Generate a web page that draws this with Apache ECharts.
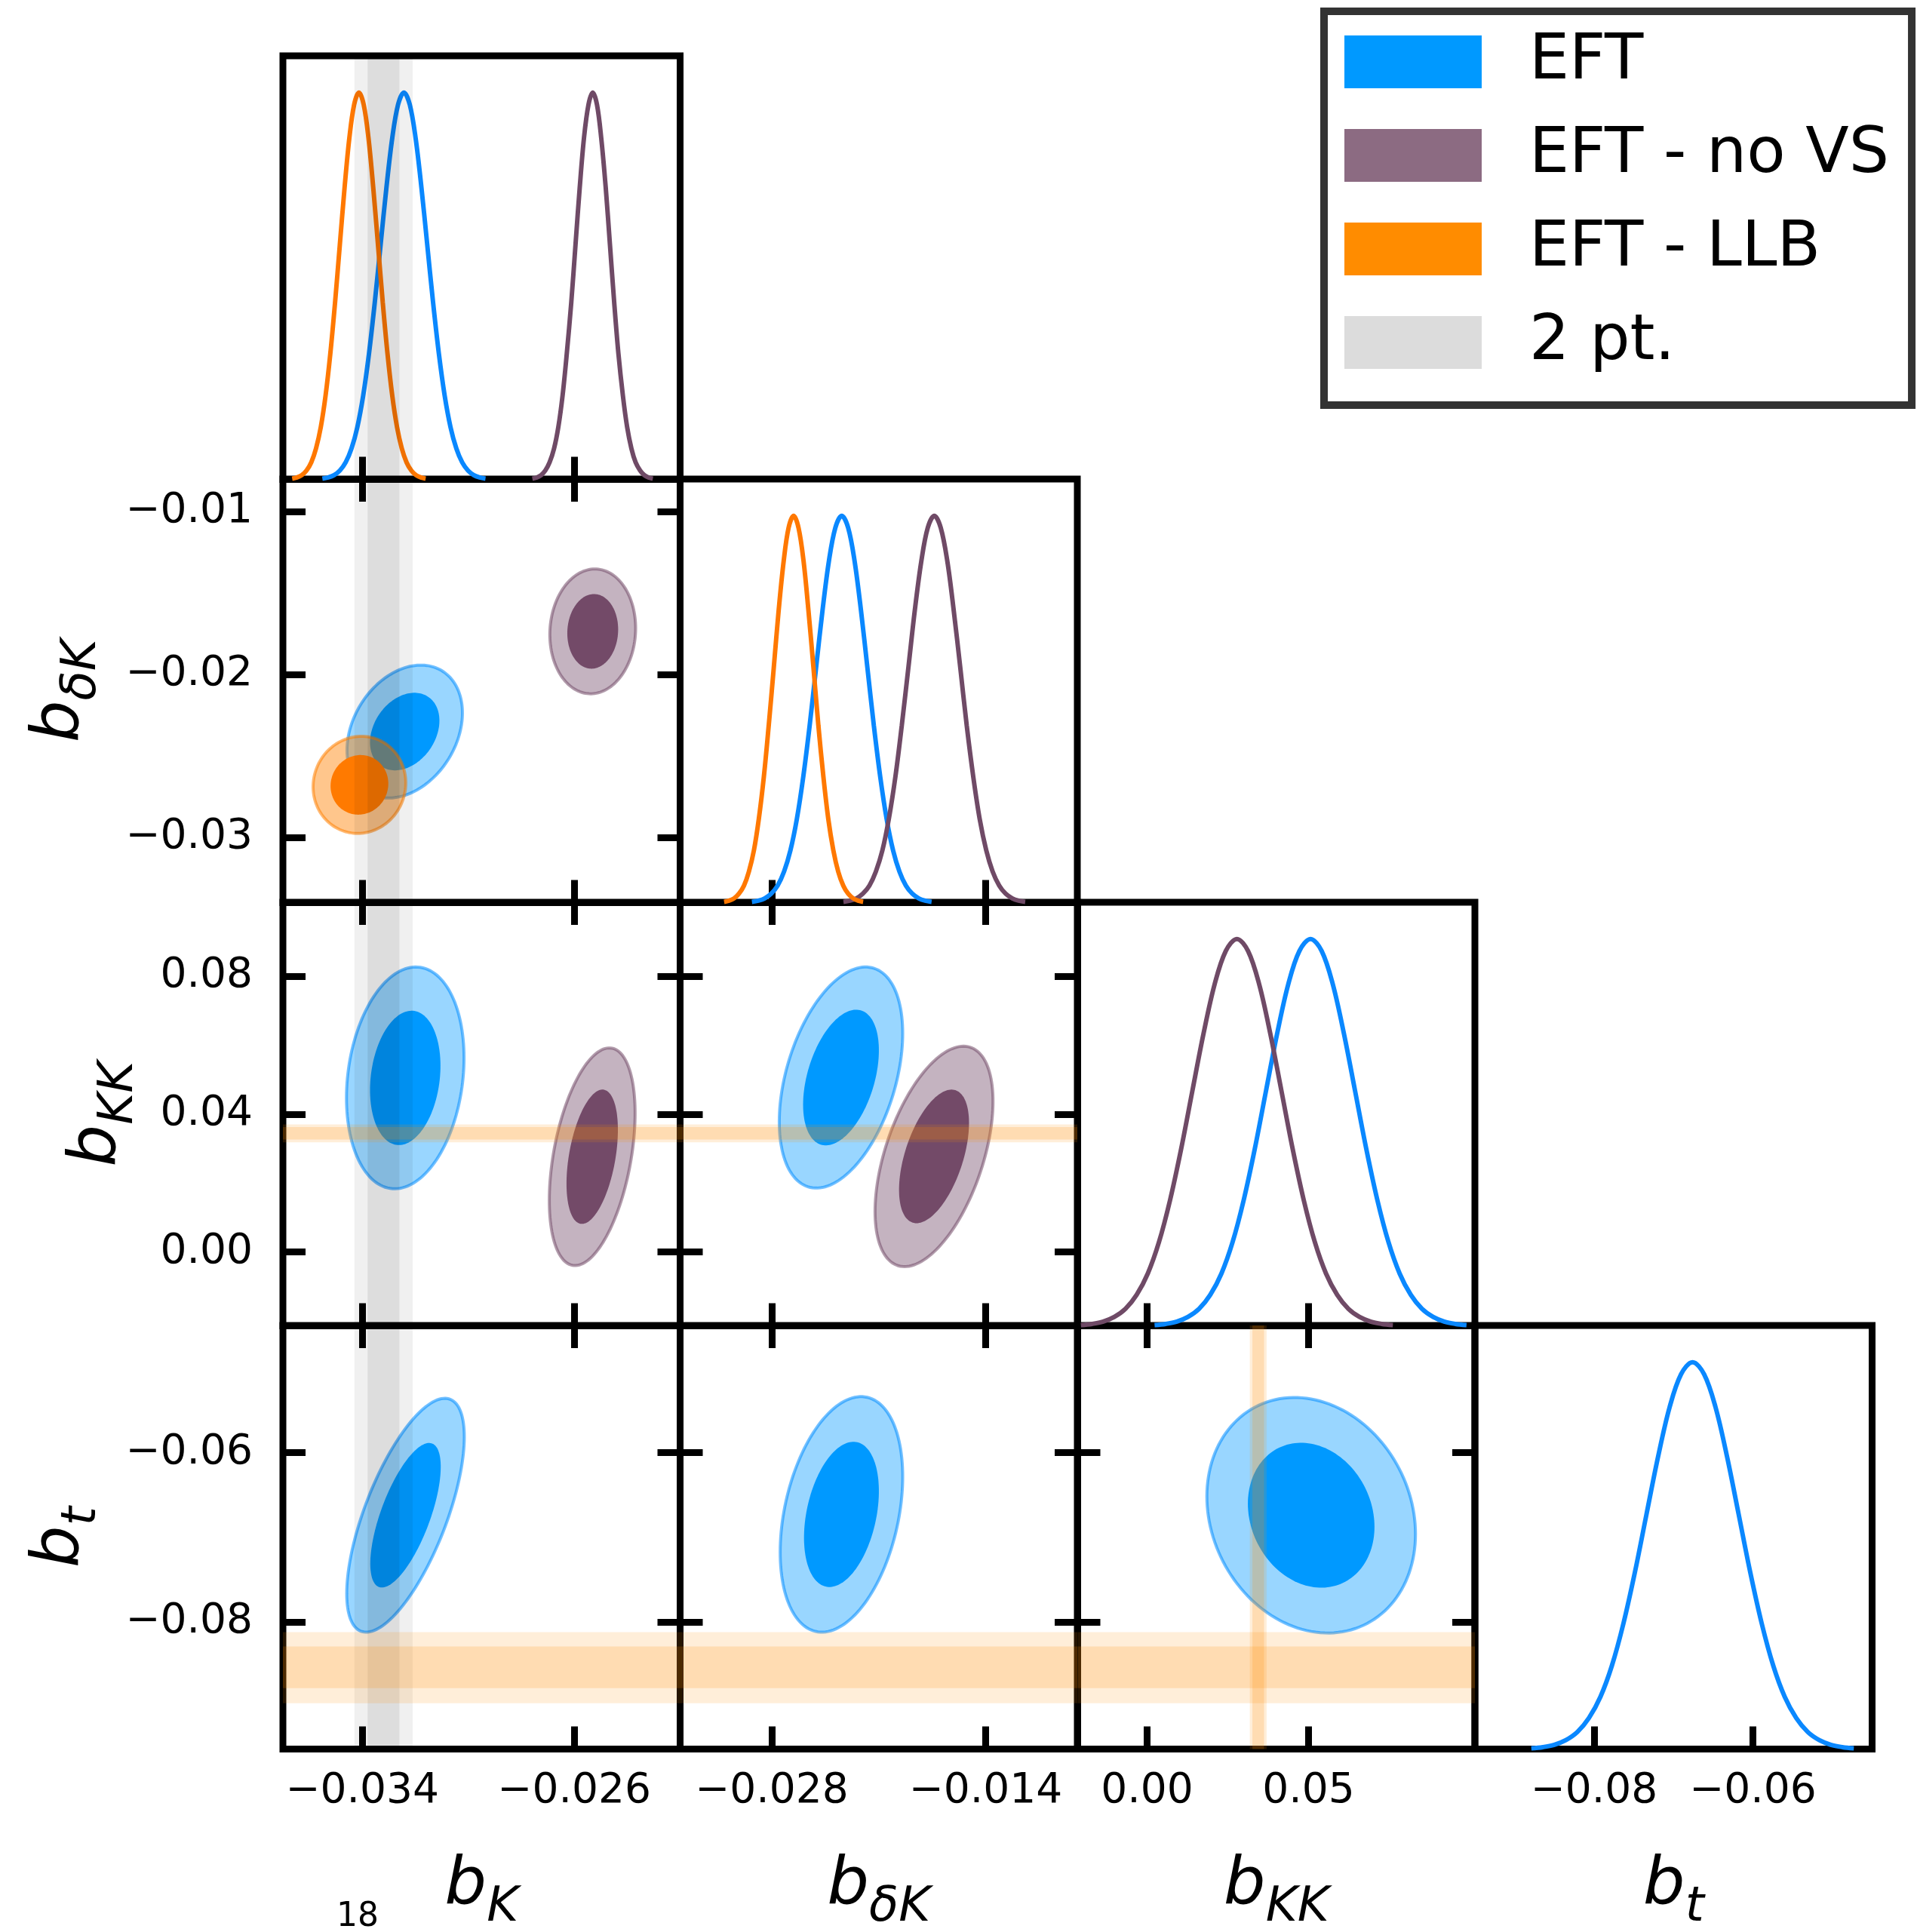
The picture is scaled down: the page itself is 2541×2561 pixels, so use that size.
<!DOCTYPE html>
<html><head><meta charset="utf-8">
<script src="https://cdn.jsdelivr.net/npm/echarts@6/dist/echarts.min.js"></script>
<style>html,body{margin:0;padding:0;background:#fff}#c{width:2541px;height:2561px}</style>
</head><body><div id="c"></div>
<script>
// ---------------- data ----------------
const rangeBK  = [-0.037, -0.022];
const rangeBdK = [-0.034, -0.008];
const rangeBKK = [-0.0215, 0.1015];
const rangeBt  = [-0.095, -0.045];
const range1D  = [0, 1.095];

const ticksBK   = [-0.034, -0.026];  const labelsBK   = ['−0.034', '−0.026'];
const ticksBdKx = [-0.028, -0.014];  const labelsBdKx = ['−0.028', '−0.014'];
const ticksBdKy = [-0.03, -0.02, -0.01]; const labelsBdKy = ['−0.03', '−0.02', '−0.01'];
const ticksBKKx = [0, 0.05];         const labelsBKKx = ['0.00', '0.05'];
const ticksBKKy = [0, 0.04, 0.08];   const labelsBKKy = ['0.00', '0.04', '0.08'];
const ticksBt   = [-0.08, -0.06];    const labelsBt   = ['−0.08', '−0.06'];

// 1D marginal posteriors: x positions and normalised density
const eft_bK_x  = [-0.03551,-0.03529,-0.03507,-0.03485,-0.03463,-0.03441,-0.03419,-0.03397,-0.03375,-0.03353,-0.03331,-0.03309,-0.03287,-0.03265,-0.03243,-0.03221,-0.03199,-0.03177,-0.03155,-0.03133,-0.03111,-0.03089,-0.03067,-0.03045,-0.03023,-0.03001,-0.02979,-0.02957,-0.02935];
const eft_bK_y  = [0.002,0.005,0.011,0.023,0.044,0.080,0.135,0.216,0.325,0.458,0.607,0.755,0.883,0.969,1,0.969,0.883,0.755,0.607,0.458,0.325,0.216,0.135,0.080,0.044,0.023,0.011,0.005,0.002];
const novs_bK_x = [-0.02758,-0.02741,-0.02725,-0.02709,-0.02693,-0.02676,-0.0266,-0.02644,-0.02628,-0.02611,-0.02595,-0.02579,-0.02563,-0.02546,-0.0253,-0.02514,-0.02498,-0.02481,-0.02465,-0.02449,-0.02433,-0.02416,-0.024,-0.02384,-0.02368,-0.02351,-0.02335,-0.02319,-0.02303];
const novs_bK_y = [0.002,0.005,0.011,0.023,0.044,0.080,0.135,0.216,0.325,0.458,0.607,0.755,0.883,0.969,1,0.969,0.883,0.755,0.607,0.458,0.325,0.216,0.135,0.080,0.044,0.023,0.011,0.005,0.002];
const llb_bK_x  = [-0.03665,-0.03647,-0.03629,-0.03611,-0.03593,-0.03575,-0.03557,-0.03539,-0.03521,-0.03503,-0.03485,-0.03467,-0.03449,-0.03431,-0.03413,-0.03395,-0.03377,-0.03359,-0.03341,-0.03323,-0.03305,-0.03287,-0.03269,-0.03251,-0.03233,-0.03215,-0.03197,-0.03179,-0.03161];
const llb_bK_y  = [0.002,0.005,0.011,0.023,0.044,0.080,0.135,0.216,0.325,0.458,0.607,0.755,0.883,0.969,1,0.969,0.883,0.755,0.607,0.458,0.325,0.216,0.135,0.080,0.044,0.023,0.011,0.005,0.002];
const eft_bdK_x = [-0.0293,-0.02888,-0.02846,-0.02804,-0.02762,-0.0272,-0.02678,-0.02636,-0.02594,-0.02552,-0.0251,-0.02468,-0.02426,-0.02384,-0.02342,-0.023,-0.02258,-0.02216,-0.02174,-0.02132,-0.0209,-0.02048,-0.02006,-0.01964,-0.01922,-0.0188,-0.01838,-0.01796,-0.01754];
const eft_bdK_y = [0.002,0.005,0.011,0.023,0.044,0.080,0.135,0.216,0.325,0.458,0.607,0.755,0.883,0.969,1,0.969,0.883,0.755,0.607,0.458,0.325,0.216,0.135,0.080,0.044,0.023,0.011,0.005,0.002];
const novs_bdK_x = [-0.02331,-0.02289,-0.02246,-0.02204,-0.02161,-0.02119,-0.02076,-0.02034,-0.01991,-0.01949,-0.01906,-0.01864,-0.01821,-0.01779,-0.01736,-0.01694,-0.01651,-0.01609,-0.01566,-0.01524,-0.01481,-0.01439,-0.01396,-0.01354,-0.01311,-0.01269,-0.01226,-0.01184,-0.01141];
const novs_bdK_y = [0.002,0.005,0.011,0.023,0.044,0.080,0.135,0.216,0.325,0.458,0.607,0.755,0.883,0.969,1,0.969,0.883,0.755,0.607,0.458,0.325,0.216,0.135,0.080,0.044,0.023,0.011,0.005,0.002];
const llb_bdK_x = [-0.03112,-0.0308,-0.03047,-0.03015,-0.02982,-0.0295,-0.02917,-0.02885,-0.02852,-0.0282,-0.02787,-0.02755,-0.02722,-0.0269,-0.02657,-0.02625,-0.02592,-0.0256,-0.02527,-0.02495,-0.02462,-0.0243,-0.02397,-0.02365,-0.02332,-0.023,-0.02267,-0.02235,-0.02202];
const llb_bdK_y = [0.002,0.005,0.011,0.023,0.044,0.080,0.135,0.216,0.325,0.458,0.607,0.755,0.883,0.969,1,0.969,0.883,0.755,0.607,0.458,0.325,0.216,0.135,0.080,0.044,0.023,0.011,0.005,0.002];
const eft_bKK_x = [0.0023,0.00575,0.0092,0.01265,0.0161,0.01955,0.023,0.02645,0.0299,0.03335,0.0368,0.04025,0.0437,0.04715,0.0506,0.05405,0.0575,0.06095,0.0644,0.06785,0.0713,0.07475,0.0782,0.08165,0.0851,0.08855,0.092,0.09545,0.0989];
const eft_bKK_y = [0.002,0.005,0.011,0.023,0.044,0.080,0.135,0.216,0.325,0.458,0.607,0.755,0.883,0.969,1,0.969,0.883,0.755,0.607,0.458,0.325,0.216,0.135,0.080,0.044,0.023,0.011,0.005,0.002];
const novs_bKK_x = [-0.0205,-0.01705,-0.0136,-0.01015,-0.0067,-0.00325,0.0002,0.00365,0.0071,0.01055,0.014,0.01745,0.0209,0.02435,0.0278,0.03125,0.0347,0.03815,0.0416,0.04505,0.0485,0.05195,0.0554,0.05885,0.0623,0.06575,0.0692,0.07265,0.0761];
const novs_bKK_y = [0.002,0.005,0.011,0.023,0.044,0.080,0.135,0.216,0.325,0.458,0.607,0.755,0.883,0.969,1,0.969,0.883,0.755,0.607,0.458,0.325,0.216,0.135,0.080,0.044,0.023,0.011,0.005,0.002];
const eft_bt_x  = [-0.0879,-0.08645,-0.085,-0.08355,-0.0821,-0.08065,-0.0792,-0.07775,-0.0763,-0.07485,-0.0734,-0.07195,-0.0705,-0.06905,-0.0676,-0.06615,-0.0647,-0.06325,-0.0618,-0.06035,-0.0589,-0.05745,-0.056,-0.05455,-0.0531,-0.05165,-0.0502,-0.04875,-0.0473];
const eft_bt_y  = [0.002,0.005,0.011,0.023,0.044,0.080,0.135,0.216,0.325,0.458,0.607,0.755,0.883,0.969,1,0.969,0.883,0.755,0.607,0.458,0.325,0.216,0.135,0.080,0.044,0.023,0.011,0.005,0.002];

// 2D contours: [centre x, centre y, 68% half-width x, 68% half-height y, 95% half-width x, 95% half-height y, correlation]
const eft_bK_bdK   = [-0.0324, -0.0235, 0.00131, 0.00238, 0.00218, 0.00408, 0.28];
const novs_bK_bdK  = [-0.0253, -0.01735, 0.00096, 0.00229, 0.00162, 0.00383, 0.05];
const llb_bK_bdK   = [-0.03411, -0.02677, 0.00109, 0.00183, 0.00175, 0.00298, 0.04];
const eft_bK_bKK   = [-0.03238, 0.0505, 0.00133, 0.0195, 0.00222, 0.0322, 0.18];
const novs_bK_bKK  = [-0.02532, 0.0276, 0.00097, 0.0195, 0.00162, 0.0316, 0.40];
const eft_bdK_bKK  = [-0.02347, 0.0506, 0.00248, 0.0197, 0.00404, 0.0321, 0.40];
const novs_bdK_bKK = [-0.01738, 0.0277, 0.00229, 0.0194, 0.00386, 0.0320, 0.50];
const eft_bK_bt    = [-0.03237, -0.0674, 0.00133, 0.00853, 0.00222, 0.0138, 0.67];
const eft_bdK_bt   = [-0.02344, -0.0673, 0.00245, 0.00857, 0.00401, 0.0139, 0.32];
const eft_bKK_bt   = [0.0508, -0.0674, 0.0196, 0.00855, 0.0323, 0.0139, -0.16];

// external constraint bands: [outer (2σ) range, inner (1σ) range]
const twoPt_bK = [[-0.0343, -0.0321], [-0.0338, -0.0326]];
const llb_bKK  = [[0.0318, 0.0370], [0.0326, 0.0362]];
const llb_bt   = [[-0.0896, -0.0812], [-0.0878, -0.0829]];

const legendNames = ['EFT', 'EFT - no VS', 'EFT - LLB', '2 pt.'];

// ---------------- styles / layout ----------------
const FONT = 'DejaVu Sans';
const C = {
  EFT:  {line: '#0A88FF', inner: '#0099FF', outer: 'rgba(0,153,255,0.40)', edge: 'rgba(0,140,255,0.55)'},
  NOVS: {line: '#6F4A66', inner: '#734A68', outer: 'rgba(115,74,104,0.42)', edge: 'rgba(115,74,104,0.55)'},
  LLB:  {line: '#FF7800', inner: '#FF7A00', outer: 'rgba(255,128,0,0.45)', edge: 'rgba(255,128,0,0.55)'}
};
const colLeft = [375, 901.5, 1428.5, 1955];
const rowTop = [74, 635, 1196, 1757];
const PW = 526.5, PH = 561.5;

const vars = [
  {range: rangeBK,  xt: ticksBK,   xl: labelsBK,   yt: null,      yl: null,       sub: 'K'},
  {range: rangeBdK, xt: ticksBdKx, xl: labelsBdKx, yt: ticksBdKy, yl: labelsBdKy, sub: 'δK'},
  {range: rangeBKK, xt: ticksBKKx, xl: labelsBKKx, yt: ticksBKKy, yl: labelsBKKy, sub: 'KK'},
  {range: rangeBt,  xt: ticksBt,   xl: labelsBt,   yt: ticksBt,   yl: labelsBt,   sub: 't'}
];
const yNameGap = [0, 229, 180, 229];

function fmt(ticks, labels) {
  return v => { const i = ticks.findIndex(t => Math.abs(t - v) < 1e-9); return i >= 0 ? labels[i] : ''; };
}
const richName = {
  b: {fontSize: 88, fontStyle: 'italic', fontFamily: FONT, color: '#000', lineHeight: 110, verticalAlign: 'top'},
  s: {fontSize: 64, fontStyle: 'italic', fontFamily: FONT, color: '#000', lineHeight: 64, verticalAlign: 'top', padding: [41, 0, 0, 0]}
};
const tickStyle = (ticks) => ({show: true, inside: true, length: 30, lineStyle: {color: '#000', width: 9}, customValues: ticks});

const grids = [], xAxes = [], yAxes = [], series = [];
const ax = {};

for (let r = 0; r < 4; r++) {
  for (let c = 0; c <= r; c++) {
    const g = grids.length;
    grids.push({left: colLeft[c], top: rowTop[r], width: PW, height: PH, show: true,
      borderColor: '#000', borderWidth: 9, backgroundColor: 'rgba(0,0,0,0)', containLabel: false, outerBoundsMode: 'none'});
    const vx = vars[c];
    const xi = xAxes.length;
    xAxes.push({type: 'value', gridIndex: g, position: 'bottom', min: vx.range[0], max: vx.range[1],
      axisLine: {show: false, onZero: false}, splitLine: {show: false},
      axisTick: tickStyle(vx.xt),
      axisLabel: {show: r === 3, customValues: vx.xt, formatter: fmt(vx.xt, vx.xl), fontSize: 55, fontFamily: FONT, color: '#000', margin: 29},
      name: r === 3 ? '{b|b}{s|' + vx.sub + '}' : '', nameLocation: 'middle', nameGap: 138,
      nameTextStyle: {rich: richName}});
    const yi = yAxes.length;
    if (r === c) {
      yAxes.push({type: 'value', gridIndex: g, min: range1D[0], max: range1D[1], show: false});
    } else {
      const vy = vars[r];
      yAxes.push({type: 'value', gridIndex: g, position: 'left', min: vy.range[0], max: vy.range[1],
        axisLine: {show: false, onZero: false}, splitLine: {show: false},
        axisTick: tickStyle(vy.yt),
        axisLabel: {show: c === 0, customValues: vy.yt, formatter: fmt(vy.yt, vy.yl), fontSize: 55, fontFamily: FONT, color: '#000', margin: 40},
        name: c === 0 ? '{b|b}{s|' + vy.sub + '}' : '', nameLocation: 'middle', nameRotate: 90, nameGap: yNameGap[r],
        nameTextStyle: {rich: richName}});
      xAxes.push({type: 'value', gridIndex: g, position: 'top', min: vx.range[0], max: vx.range[1],
        axisLine: {show: false, onZero: false}, splitLine: {show: false}, axisTick: tickStyle(vx.xt), axisLabel: {show: false}});
      yAxes.push({type: 'value', gridIndex: g, position: 'right', min: vy.range[0], max: vy.range[1],
        axisLine: {show: false, onZero: false}, splitLine: {show: false}, axisTick: tickStyle(vy.yt), axisLabel: {show: false}});
    }
    ax[r + '_' + c] = {x: xi, y: yi};
  }
}

function curve(name, key, xs, ys, color) {
  series.push({type: 'line', name, xAxisIndex: ax[key].x, yAxisIndex: ax[key].y,
    data: xs.map((x, i) => [x, ys[i]]),
    showSymbol: false, symbol: 'none', smooth: 0.35, lineStyle: {color, width: 6}, itemStyle: {color}, z: 3});
}
function contour(name, key, p, col) {
  series.push({type: 'custom', name, xAxisIndex: ax[key].x, yAxisIndex: ax[key].y,
    data: [[p[0], p[1], p[4], p[5], p[6], 0], [p[0], p[1], p[2], p[3], p[6], 1]],
    encode: {x: 0, y: 1}, z: 2,
    renderItem: (params, api) => {
      const cx = api.value(0), cy = api.value(1), hx = api.value(2), hy = api.value(3), rho = api.value(4), lvl = api.value(5);
      const phi = Math.acos(rho);
      const pts = [];
      for (let i = 0; i < 144; i++) {
        const t = 2 * Math.PI * i / 144;
        pts.push(api.coord([cx + hx * Math.cos(t), cy + hy * Math.cos(t - phi)]));
      }
      return {type: 'polygon', shape: {points: pts},
        style: lvl ? {fill: col.inner, stroke: null} : {fill: col.outer, stroke: col.edge, lineWidth: 4}};
    }});
}
function band(name, key, b, dir, rgb, alphas) {
  const [r, c] = key.split('_').map(Number);
  const xr = vars[c].range, yr = (r === c) ? range1D : vars[r].range;
  series.push({type: 'custom', name, xAxisIndex: ax[key].x, yAxisIndex: ax[key].y,
    data: [[b[0][0], b[0][1], 0], [b[1][0], b[1][1], 1]],
    encode: dir === 'v' ? {x: [0, 1]} : {y: [0, 1]}, z: 4, silent: true,
    renderItem: (params, api) => {
      const lo = api.value(0), hi = api.value(1), lvl = api.value(2);
      const p0 = dir === 'v' ? api.coord([lo, yr[1]]) : api.coord([xr[0], hi]);
      const p1 = dir === 'v' ? api.coord([hi, yr[0]]) : api.coord([xr[1], lo]);
      return {type: 'rect', shape: {x: p0[0], y: p0[1], width: p1[0] - p0[0], height: p1[1] - p0[1]},
        style: {fill: 'rgba(' + rgb + ',' + alphas[lvl] + ')'}};
    }});
}

// diagonal 1D
curve('EFT', '0_0', eft_bK_x, eft_bK_y, C.EFT.line);
curve('EFT - no VS', '0_0', novs_bK_x, novs_bK_y, C.NOVS.line);
curve('EFT - LLB', '0_0', llb_bK_x, llb_bK_y, C.LLB.line);
curve('EFT', '1_1', eft_bdK_x, eft_bdK_y, C.EFT.line);
curve('EFT - no VS', '1_1', novs_bdK_x, novs_bdK_y, C.NOVS.line);
curve('EFT - LLB', '1_1', llb_bdK_x, llb_bdK_y, C.LLB.line);
curve('EFT', '2_2', eft_bKK_x, eft_bKK_y, C.EFT.line);
curve('EFT - no VS', '2_2', novs_bKK_x, novs_bKK_y, C.NOVS.line);
curve('EFT', '3_3', eft_bt_x, eft_bt_y, C.EFT.line);

// 2D
contour('EFT', '1_0', eft_bK_bdK, C.EFT);
contour('EFT - no VS', '1_0', novs_bK_bdK, C.NOVS);
contour('EFT - LLB', '1_0', llb_bK_bdK, C.LLB);
contour('EFT', '2_0', eft_bK_bKK, C.EFT);
contour('EFT - no VS', '2_0', novs_bK_bKK, C.NOVS);
contour('EFT', '2_1', eft_bdK_bKK, C.EFT);
contour('EFT - no VS', '2_1', novs_bdK_bKK, C.NOVS);
contour('EFT', '3_0', eft_bK_bt, C.EFT);
contour('EFT', '3_1', eft_bdK_bt, C.EFT);
contour('EFT', '3_2', eft_bKK_bt, C.EFT);

// bands
const GRAY = '0,0,0', GA = [0.06, 0.08];
const ORG = '255,140,0', OA = [0.15, 0.18];
['0_0', '1_0', '2_0', '3_0'].forEach(k => band('2 pt.', k, twoPt_bK, 'v', GRAY, GA));
['2_0', '2_1'].forEach(k => band('EFT - LLB', k, llb_bKK, 'h', ORG, OA));
['3_0', '3_1', '3_2'].forEach(k => band('EFT - LLB', k, llb_bt, 'h', ORG, OA));
band('EFT - LLB', '3_2', llb_bKK, 'v', ORG, OA);

const legendColors = ['#0099FF', '#8C6B82', '#FF8C00', '#DCDCDC'];

const option = {
  animation: false,
  backgroundColor: '#ffffff',
  grid: grids, xAxis: xAxes, yAxis: yAxes, series,
  legend: {
    left: 1755, top: 15, orient: 'vertical', selectedMode: false,
    data: legendNames.map((n, i) => ({name: n, icon: 'rect', itemStyle: {color: legendColors[i], borderWidth: 0}})),
    itemWidth: 182, itemHeight: 70, itemGap: 40,
    padding: [25, 30, 41, 27], borderColor: '#333', borderWidth: 10, backgroundColor: '#fff',
    textStyle: {fontSize: 84, fontFamily: FONT, color: '#000', padding: [0, 0, 0, 58]}
  },
  graphic: [{type: 'text', left: 446, top: 2520, style: {text: '18', fontSize: 44, fontFamily: FONT, fill: '#000'}}]
};
const chart = echarts.init(document.getElementById('c'), null, {renderer: 'canvas'});
chart.setOption(option);
</script></body></html>
